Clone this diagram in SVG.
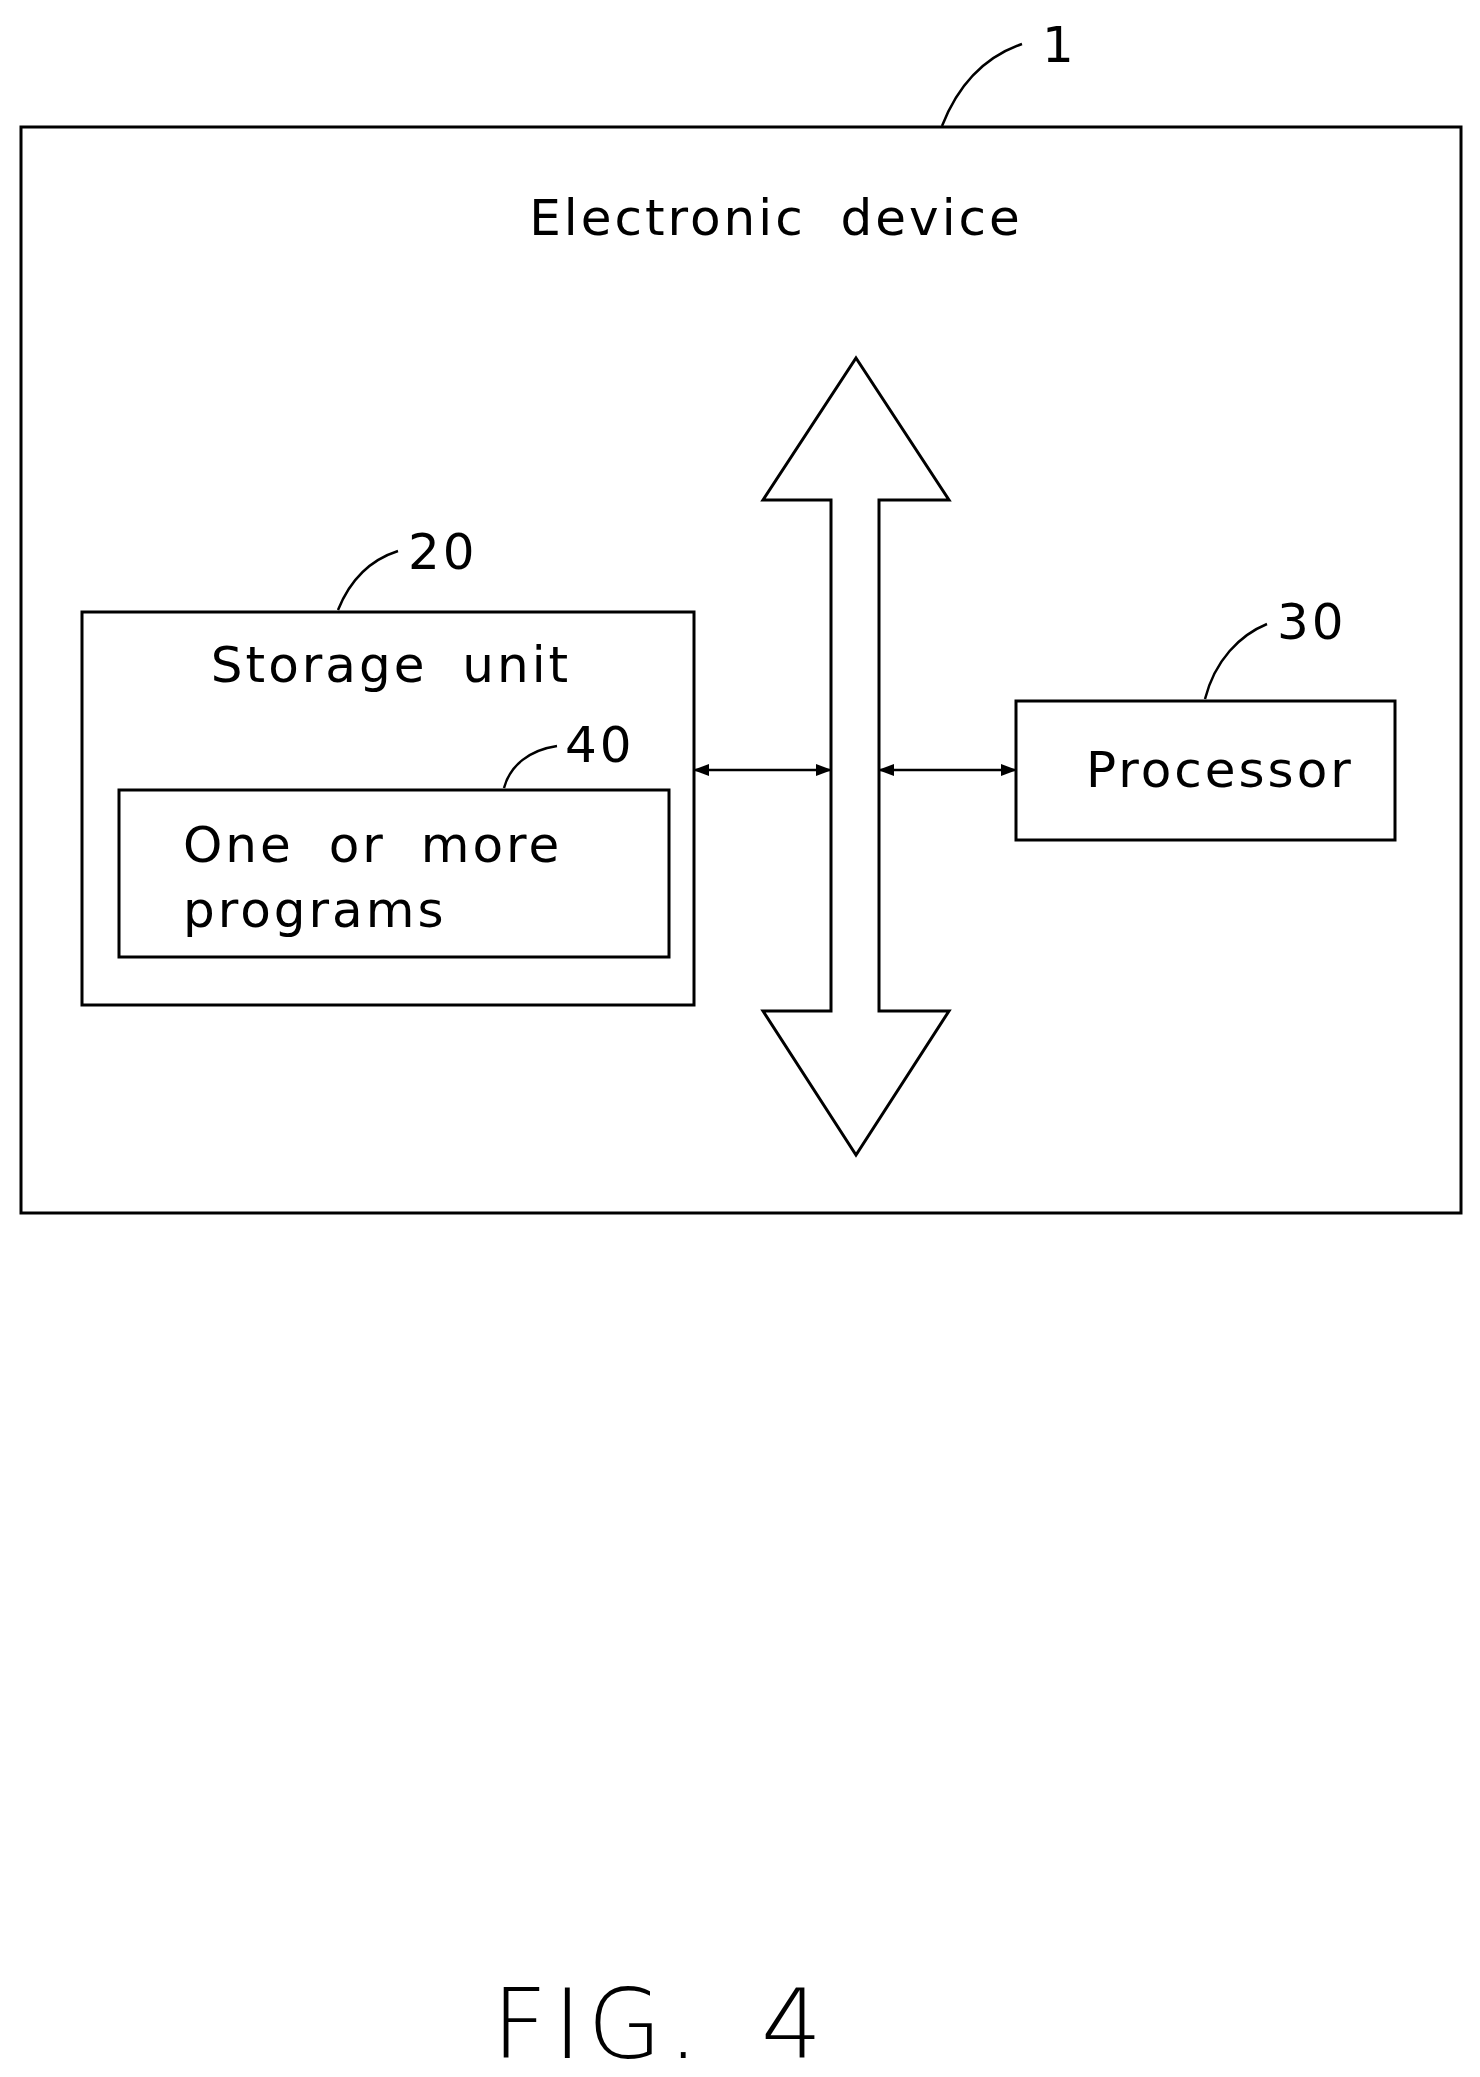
<svg xmlns="http://www.w3.org/2000/svg" width="1480" height="2077" viewBox="0 0 1480 2077">
<style>
.b{fill:none;stroke:#000;stroke-width:3}
.t{font-family:"DejaVu Sans","Liberation Sans",sans-serif;font-size:50px;fill:#000;letter-spacing:3px}
.l{fill:none;stroke:#000;stroke-width:2.5}
</style>
<defs>
<marker id="a" markerWidth="16" markerHeight="12" refX="15" refY="6" orient="auto-start-reverse" markerUnits="userSpaceOnUse">
<path d="M0,0 L16,6 L0,12 Z" fill="#000"/>
</marker>
</defs>
<rect width="1480" height="2077" fill="#fff"/>
<g id="device">
<rect class="b" x="21" y="127" width="1440" height="1086"/>
<path class="l" d="M942,126 C960,80 990,55 1022,44"/>
<text class="t" x="1042" y="62">1</text>
<text class="t" x="776" y="235" text-anchor="middle" word-spacing="16">Electronic device</text>
</g>
<g id="bus">
<polygon class="b" points="856,358 949,500 879,500 879,1011 949,1011 856,1155 763,1011 831,1011 831,500 763,500"/>
</g>
<g id="storage">
<rect class="b" x="82" y="612" width="612" height="393"/>
<path class="l" d="M338,610 C350,580 370,560 398,551"/>
<text class="t" x="408" y="569">20</text>
<text class="t" x="391" y="682" text-anchor="middle" word-spacing="16">Storage unit</text>
</g>
<g id="programs">
<rect class="b" x="119" y="790" width="550" height="167"/>
<path class="l" d="M504,788 C510,765 530,750 557,746"/>
<text class="t" x="565" y="762">40</text>
<text class="t" x="183" y="862" word-spacing="16">One or more</text>
<text class="t" x="183" y="927">programs</text>
</g>
<g id="processor">
<rect class="b" x="1016" y="701" width="379" height="139"/>
<path class="l" d="M1205,699 C1215,660 1240,635 1267,624"/>
<text class="t" x="1277" y="639">30</text>
<text class="t" x="1086" y="787">Processor</text>
</g>
<g id="connectors">
<line class="l" x1="694" y1="770" x2="831" y2="770" marker-start="url(#a)" marker-end="url(#a)"/>
<line class="l" x1="879" y1="770" x2="1016" y2="770" marker-start="url(#a)" marker-end="url(#a)"/>
</g>
<text x="660" y="2058" text-anchor="middle" font-family="DejaVu Sans,sans-serif" font-size="96" font-weight="200" letter-spacing="6" word-spacing="20">FIG. 4</text>
</svg>
